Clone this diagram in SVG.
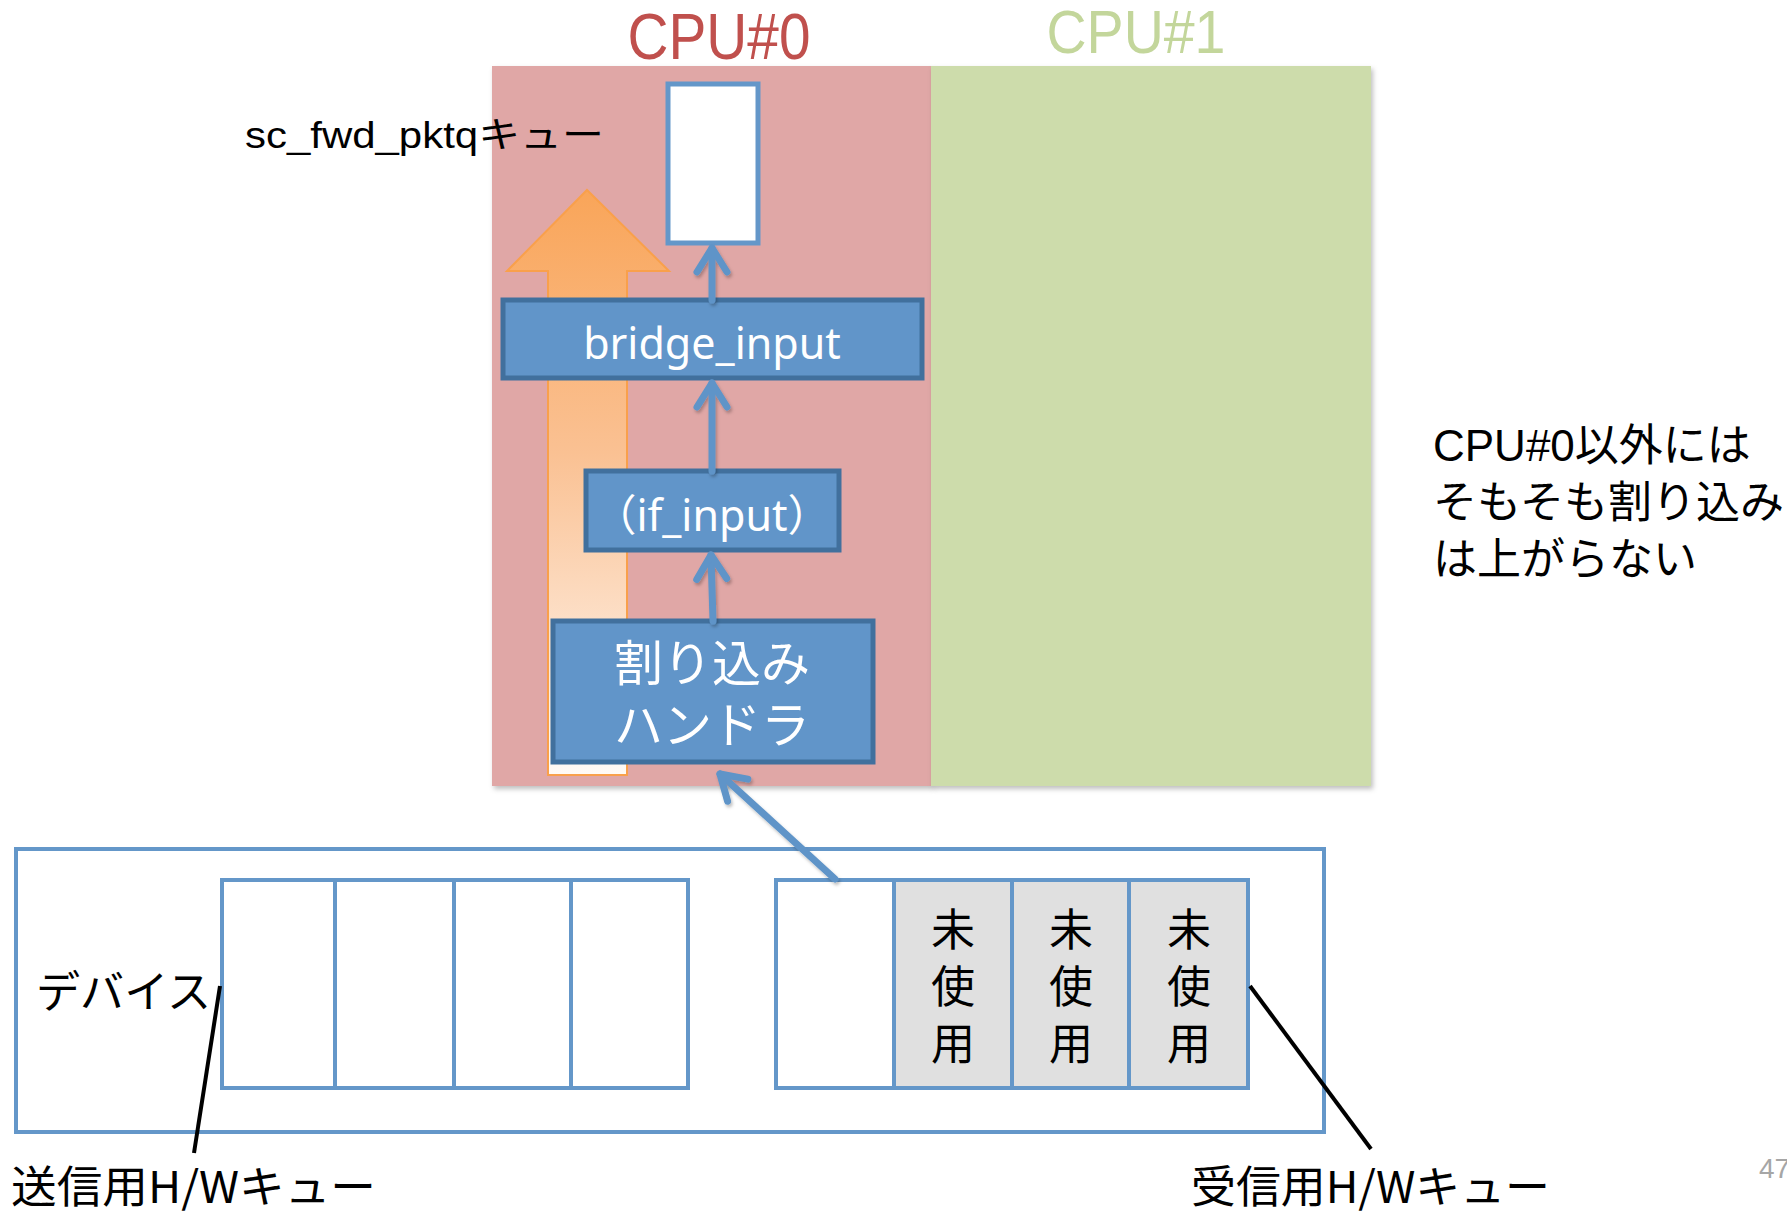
<svg xmlns="http://www.w3.org/2000/svg" width="1787" height="1215" viewBox="0 0 1787 1215">
  <defs>
    <linearGradient id="orangeFade" x1="0" y1="0" x2="0" y2="1">
      <stop offset="0" stop-color="#F9A559"/>
      <stop offset="0.45" stop-color="#FAC193"/>
      <stop offset="1" stop-color="#FFFAF6"/>
    </linearGradient>
    <filter id="softShadow" x="-5%" y="-5%" width="110%" height="110%">
      <feDropShadow dx="2" dy="3" stdDeviation="2.5" flood-color="#000" flood-opacity="0.25"/>
    </filter>
    <filter id="lineShadow" x="-20%" y="-20%" width="140%" height="140%">
      <feDropShadow dx="1.5" dy="2.5" stdDeviation="1.5" flood-color="#000" flood-opacity="0.25"/>
    </filter>
    <marker id="chevron" viewBox="-32 -22 38 44" refX="0" refY="0" markerWidth="38" markerHeight="44" markerUnits="userSpaceOnUse" orient="auto">
      <path d="M-24 -15 L0 0 L-24 15" fill="none" stroke="#5F94C8" stroke-width="7" stroke-linecap="round" stroke-linejoin="round"/>
    </marker>
  </defs>
  <style>
    .lbl { font-family: "Liberation Sans", "Noto Sans CJK JP", sans-serif; fill: #000; }
    .boxtxt { font-family: "Noto Sans", "Noto Sans CJK JP", sans-serif; fill: #fff; text-anchor: middle; }
    .jp { font-family: "Noto Sans CJK JP", sans-serif; fill: #000; }
    .vert { font-family: "Noto Sans CJK JP", sans-serif; fill: #000; font-size: 44px; writing-mode: vertical-rl; letter-spacing: 13px; }
    .proc { fill: #6195C9; stroke: #41709D; stroke-width: 5; }
    .cell { fill: #fff; stroke: #6497C9; stroke-width: 4; }
    .unused { fill: #E0E0E0; stroke: #6497C9; stroke-width: 4; }
    .flow { fill: none; stroke: #5F94C8; stroke-width: 7; stroke-linecap: round; }
    .leader { fill: none; stroke: #000; stroke-width: 4; }
  </style>

  <rect width="1787" height="1215" fill="#fff"/>

  <!-- CPU lanes -->
  <g id="cpu0">
    <rect x="492" y="66" width="440" height="720" fill="#E0A7A6" filter="url(#softShadow)"/>
    <text x="719" y="59" font-family="Liberation Sans, sans-serif" font-size="64" fill="#C0504D" text-anchor="middle" textLength="183" lengthAdjust="spacingAndGlyphs">CPU#0</text>
  </g>
  <g id="cpu1">
    <rect x="931" y="66" width="440" height="720" fill="#CDDCAB" filter="url(#softShadow)"/>
    <text x="1136" y="53" font-family="Liberation Sans, sans-serif" font-size="62" fill="#C3D69B" text-anchor="middle" textLength="179" lengthAdjust="spacingAndGlyphs">CPU#1</text>
  </g>

  <!-- processing direction -->
  <g id="upward-flow">
    <path d="M548 775 L548 271 L507 271 L587 190 L669 271 L627 271 L627 775 Z" fill="url(#orangeFade)" stroke="#F9A04B" stroke-width="2"/>
  </g>

  <!-- forwarding queue -->
  <g id="sc-fwd-pktq">
    <rect x="668" y="84" width="90" height="159" fill="#fff" stroke="#6497C9" stroke-width="5"/>
    <text class="lbl" x="245" y="148" font-size="36" textLength="359" lengthAdjust="spacingAndGlyphs">sc_fwd_pktqキュー</text>
  </g>

  <g id="bridge-input">
    <rect class="proc" x="503" y="300" width="419" height="78"/>
    <text class="boxtxt" x="712" y="359" font-size="43">bridge_input</text>
  </g>

  <g id="if-input">
    <rect class="proc" x="586" y="471" width="253" height="79"/>
    <text class="boxtxt" x="712" y="531" font-size="43">（if_input）</text>
  </g>

  <g id="intr-handler">
    <rect class="proc" x="553" y="621" width="320" height="141"/>
    <text class="boxtxt" x="712" y="681" font-size="49">割り込み</text>
    <text class="boxtxt" x="712" y="743" font-size="49">ハンドラ</text>
  </g>

  <!-- device and hardware queues -->
  <g id="device">
    <rect x="16" y="849" width="1308" height="283" fill="none" stroke="#6497C9" stroke-width="4"/>
    <text class="jp" x="36" y="1008" font-size="44" textLength="175" lengthAdjust="spacingAndGlyphs">デバイス</text>
  </g>

  <g id="tx-queue">
    <rect class="cell" x="222" y="880" width="113" height="208"/>
    <rect class="cell" x="335" y="880" width="119" height="208"/>
    <rect class="cell" x="454" y="880" width="117" height="208"/>
    <rect class="cell" x="571" y="880" width="117" height="208"/>
    <text class="jp" x="11" y="1203" font-size="44" textLength="365" lengthAdjust="spacingAndGlyphs">送信用H/Wキュー</text>
  </g>

  <g id="rx-queue">
    <rect class="cell" x="776" y="880" width="118" height="208"/>
    <rect class="unused" x="894" y="880" width="118" height="208"/>
    <rect class="unused" x="1012" y="880" width="117" height="208"/>
    <rect class="unused" x="1129" y="880" width="119" height="208"/>
    <text class="vert" x="953" y="907">未使用</text>
    <text class="vert" x="1071" y="907">未使用</text>
    <text class="vert" x="1189" y="907">未使用</text>
    <text class="jp" x="1191" y="1203" font-size="44" textLength="359" lengthAdjust="spacingAndGlyphs">受信用H/Wキュー</text>
  </g>

  <!-- note -->
  <g id="note">
    <text class="lbl" font-size="44">
      <tspan x="1433" y="461">CPU#0以外には</tspan>
      <tspan x="1433" y="518">そもそも割り込み</tspan>
      <tspan x="1433" y="575">は上がらない</tspan>
    </text>
  </g>

  <text x="1759" y="1178" font-family="Liberation Sans, sans-serif" font-size="28" fill="#A6A6A6">47</text>

  <!-- connectors -->
  <g id="connectors">
    <g filter="url(#lineShadow)">
      <line class="flow" x1="712" y1="300" x2="712" y2="248" marker-end="url(#chevron)"/>
      <line class="flow" x1="712" y1="471" x2="712" y2="383" marker-end="url(#chevron)"/>
      <line class="flow" x1="713" y1="621" x2="711" y2="555" marker-end="url(#chevron)"/>
      <line class="flow" x1="835" y1="879" x2="720" y2="774" marker-end="url(#chevron)"/>
    </g>
    <line class="leader" x1="220" y1="986" x2="194" y2="1153"/>
    <line class="leader" x1="1250" y1="986" x2="1371" y2="1149"/>
  </g>
</svg>
